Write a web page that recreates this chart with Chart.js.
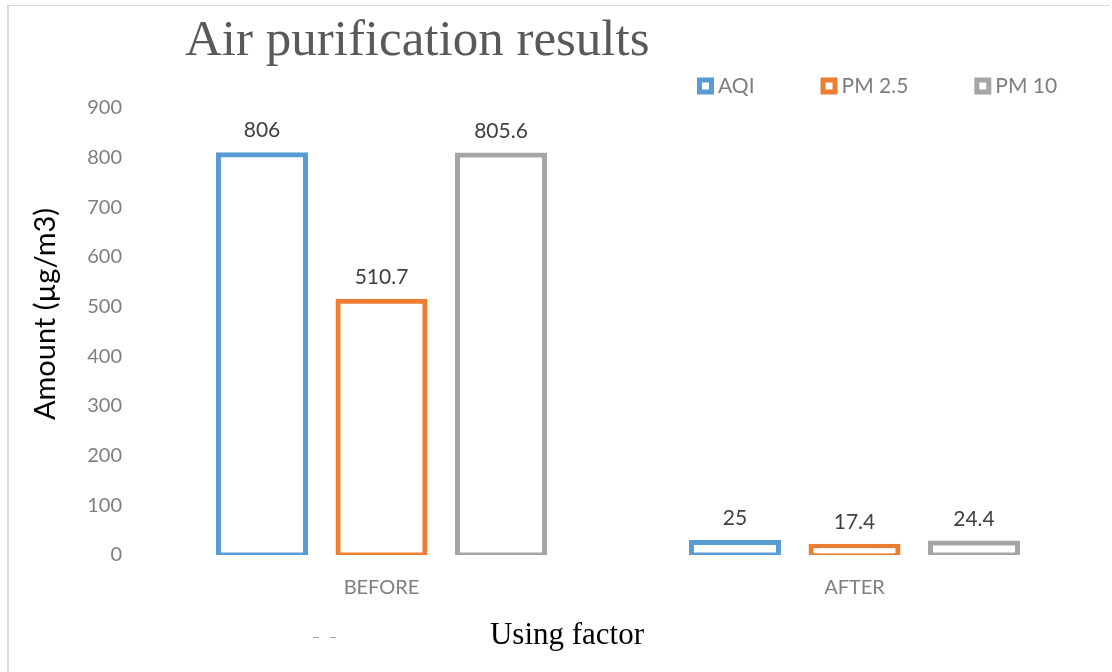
<!DOCTYPE html>
<html>
<head>
<meta charset="utf-8">
<title>Air purification results</title>
<script src="https://cdn.jsdelivr.net/npm/chart.js@4.4.1/dist/chart.umd.min.js"></script>
<style>
  html, body { margin: 0; padding: 0; background: #ffffff; }
  #wrap { width: 1112px; height: 672px; }
</style>
</head>
<body>
<div id="wrap"><canvas id="chart" width="1112" height="672"></canvas></div>
<script>
// ---- data ----
const categories = ["BEFORE", "AFTER"];
const seriesNames = ["AQI", "PM 2.5", "PM 10"];
const aqiValues = [806, 25];
const pm25Values = [510.7, 17.4];
const pm10Values = [805.6, 24.4];
const yTickMin = 0;
const yTickMax = 900;
const yTickStep = 100;
const chartTitle = "Air purification results";
const xAxisTitle = "Using factor";
const yAxisTitle = "Amount (\u00b5g/m3)";

// ---- styling ----
const seriesColors = ["#5b9bd5", "#ed7d31", "#a5a5a5"];
const sansFamily = "Lato, 'Open Sans', sans-serif";
const serifFamily = "'Liberation Serif', 'DejaVu Serif', serif";

const seriesValues = [aqiValues, pm25Values, pm10Values];

// value labels above each bar
const valueLabels = {
  id: "valueLabels",
  afterDatasetsDraw(chart) {
    const ctx = chart.ctx;
    ctx.save();
    ctx.font = "21px " + sansFamily;
    ctx.fillStyle = "#404040";
    ctx.textAlign = "center";
    ctx.textBaseline = "middle";
    chart.data.datasets.forEach((ds, i) => {
      const meta = chart.getDatasetMeta(i);
      meta.data.forEach((bar, j) => {
        ctx.fillText(String(ds.data[j]), bar.x, bar.y - 24);
      });
    });
    ctx.restore();
  }
};

// frame, title, axis titles and legend
const decorations = {
  id: "decorations",
  beforeDraw(chart) {
    const ctx = chart.ctx;
    ctx.save();
    ctx.fillStyle = "#ffffff";
    ctx.fillRect(0, 0, chart.width, chart.height);
    ctx.fillStyle = "#d9d9d9";
    ctx.fillRect(7, 5, 2, chart.height - 5);
    ctx.fillRect(7, 5, 1103, 1);
    ctx.restore();
  },
  afterDraw(chart) {
    const ctx = chart.ctx;
    ctx.save();
    // chart title
    ctx.font = "51px " + serifFamily;
    ctx.fillStyle = "#595959";
    ctx.textAlign = "left";
    ctx.textBaseline = "alphabetic";
    ctx.fillText(chartTitle, 185, 55);

    // x axis title
    ctx.font = "31px " + serifFamily;
    ctx.fillStyle = "#000000";
    ctx.textAlign = "center";
    ctx.textBaseline = "middle";
    ctx.fillText(xAxisTitle, 567, 636);

    // small dashes left of the x axis title
    ctx.fillStyle = "#a6a6a6";
    ctx.fillRect(313, 637, 6, 1);
    ctx.fillRect(330, 637, 6, 1);

    // y axis title
    ctx.save();
    ctx.translate(46, 314);
    ctx.rotate(-Math.PI / 2);
    ctx.font = "29px " + sansFamily;
    ctx.fillStyle = "#000000";
    ctx.textAlign = "center";
    ctx.textBaseline = "middle";
    ctx.fillText(yAxisTitle, 0, 0);
    ctx.restore();

    // legend
    ctx.font = "21px " + sansFamily;
    ctx.textBaseline = "middle";
    ctx.textAlign = "left";
    let x = 697;
    const cy = 86;
    chart.data.datasets.forEach((ds) => {
      ctx.fillStyle = "#ffffff";
      ctx.fillRect(x + 2.5, cy - 6, 12, 12);
      ctx.strokeStyle = ds.borderColor;
      ctx.lineWidth = 5;
      ctx.strokeRect(x + 2.5, cy - 6, 12, 12);
      ctx.fillStyle = "#7f7f7f";
      ctx.fillText(ds.label, x + 21, cy);
      x += 21 + ctx.measureText(ds.label).width + 66;
    });
    ctx.restore();
  }
};

new Chart(document.getElementById("chart"), {
  type: "bar",
  data: {
    labels: categories,
    datasets: seriesNames.map((name, i) => ({
      label: name,
      data: seriesValues[i],
      backgroundColor: "#ffffff",
      borderColor: seriesColors[i],
      borderWidth: 5,
      borderSkipped: false,
      inflateAmount: 2.5,
      categoryPercentage: 0.758,
      barPercentage: 0.728
    }))
  },
  options: {
    responsive: false,
    animation: false,
    devicePixelRatio: 1,
    layout: { padding: { top: 108, right: 21, left: 0, bottom: 0 } },
    plugins: {
      legend: { display: false },
      title: { display: false },
      tooltip: { enabled: false }
    },
    scales: {
      x: {
        grid: { display: false },
        border: { display: false },
        ticks: {
          color: "#7f7f7f",
          font: { family: sansFamily, size: 20 },
          padding: 13
        },
        afterFit(scale) { scale.height = 117; }
      },
      y: {
        min: yTickMin,
        max: yTickMax,
        grid: { display: false },
        border: { display: false },
        ticks: {
          stepSize: yTickStep,
          color: "#7f7f7f",
          font: { family: sansFamily, size: 20 },
          padding: 15
        },
        afterFit(scale) { scale.width = 145; }
      }
    }
  },
  plugins: [decorations, valueLabels]
});
</script>
</body>
</html>
